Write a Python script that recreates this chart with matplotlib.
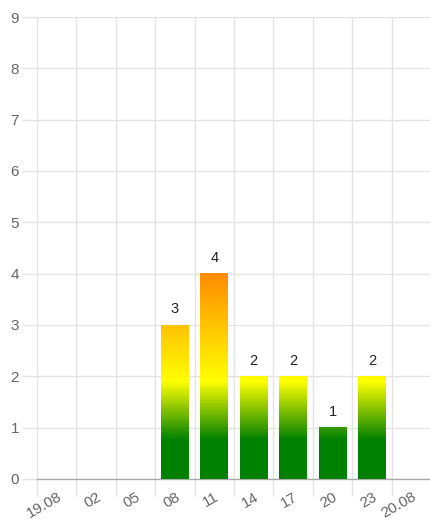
import matplotlib
matplotlib.use('Agg')
import matplotlib.pyplot as plt
import matplotlib.transforms as mtransforms
from matplotlib.colors import LinearSegmentedColormap, Normalize
import numpy as np

plt.rcParams['font.family'] = ['Liberation Sans', 'DejaVu Sans']

# data
tick_labels = ['19.08', '02', '05', '08', '11', '14', '17', '20', '23', '20.08']
bar_slots = [3, 4, 5, 6, 7, 8]          # slot index (between tick i and i+1)
bar_values = [3, 4, 2, 2, 1, 2]

grid_col = '#e3e3e3'
text_col = '#666666'

# gradient depends on absolute value
cmap = LinearSegmentedColormap.from_list(
    'traffic', [(0.0, '#008000'), (0.75 / 4, '#008000'),
                (1.9 / 4, '#ffff00'), (1.0, '#ff8c00')])
norm = Normalize(vmin=0, vmax=4)

fig = plt.figure(figsize=(4.31, 5.28), dpi=100)
ax = fig.add_axes([37 / 431, 1 - 479 / 528, 1 - 37 / 431, (479 - 17) / 528])

bars = ax.bar([s + 0.5 for s in bar_slots], bar_values, width=0.71,
              facecolor='none', edgecolor='none', zorder=3)
for rect, v in zip(bars, bar_values):
    x0 = rect.get_x()
    w = rect.get_width()
    grad = np.linspace(0, v, 200).reshape(-1, 1)
    ax.imshow(grad, cmap=cmap, norm=norm, origin='lower', aspect='auto',
              extent=(x0, x0 + w, 0, v), zorder=3, interpolation='bilinear')
    ax.text(x0 + w / 2, v + 0.17, str(v), ha='center', va='bottom',
            fontsize=10.5, color='#222222', zorder=4)
ax.set_xlim(0, 10)
ax.set_ylim(0, 9)

# grid
ax.set_xticks(range(10))
ax.set_yticks(range(10))
ax.grid(True, color=grid_col, linewidth=1, zorder=0)
ax.set_axisbelow(True)
for s in ['top', 'right', 'left']:
    ax.spines[s].set_visible(False)
ax.spines['bottom'].set_color('#aaaaaa')
ax.spines['bottom'].set_linewidth(1)

ax.tick_params(axis='y', length=11, color=grid_col, width=1, pad=2,
               labelsize=11, labelcolor=text_col)
ax.tick_params(axis='x', length=12, color=grid_col, width=1, pad=0,
               labelsize=11, labelcolor=text_col)
ax.set_yticklabels([str(i) for i in range(10)])
ax.set_xticklabels(tick_labels, rotation=30, ha='right', va='top',
                   rotation_mode='anchor')
offset = mtransforms.ScaledTranslation(20 / 100, 6 / 100, fig.dpi_scale_trans)
for lab in ax.get_xticklabels():
    lab.set_transform(lab.get_transform() + offset)

fig.savefig('out.png', dpi=100)
